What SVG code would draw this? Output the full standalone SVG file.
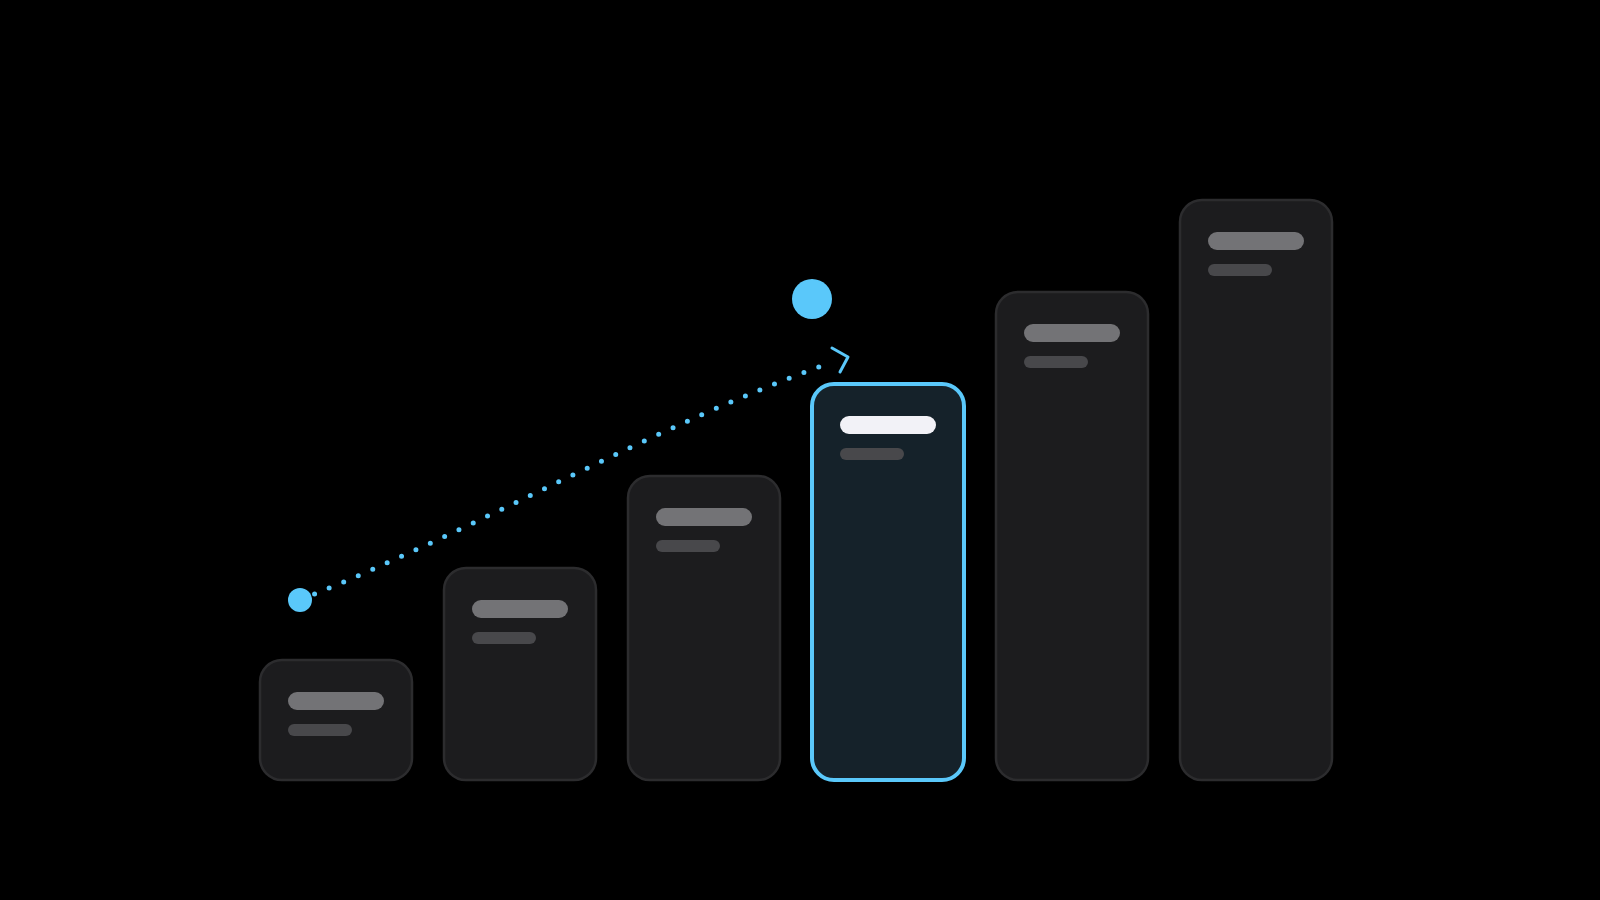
<svg xmlns="http://www.w3.org/2000/svg" width="1600" height="900" viewBox="0 0 1600 900">
  <style>
    .bar { fill: #1c1c1e; stroke: #2c2c2e; stroke-width: 2.5; }
    .bar-active { fill: #15222a; stroke: #5ac8fa; stroke-width: 4; }
    .title { fill: #737376; }
    .title-active { fill: #f2f2f7; }
    .sub { fill: #48484b; }
    .dot { fill: #5ac8fa; }
    .trail { fill: none; stroke: #5ac8fa; stroke-width: 5; stroke-linecap: round; stroke-dasharray: 0 15.8; }
    .chev { fill: none; stroke: #5ac8fa; stroke-width: 3; stroke-linecap: round; stroke-linejoin: round; }
  </style>
  <rect width="1600" height="900" fill="#000000"/>
  <g id="step1">
    <rect class="bar" x="260" y="660" width="152" height="120" rx="22"/>
    <rect class="title" x="288" y="692" width="96" height="18" rx="9"/>
    <rect class="sub" x="288" y="724" width="64" height="12" rx="6"/>
  </g>
  <g id="step2">
    <rect class="bar" x="444" y="568" width="152" height="212" rx="22"/>
    <rect class="title" x="472" y="600" width="96" height="18" rx="9"/>
    <rect class="sub" x="472" y="632" width="64" height="12" rx="6"/>
  </g>
  <g id="step3">
    <rect class="bar" x="628" y="476" width="152" height="304" rx="22"/>
    <rect class="title" x="656" y="508" width="96" height="18" rx="9"/>
    <rect class="sub" x="656" y="540" width="64" height="12" rx="6"/>
  </g>
  <g id="step4">
    <rect class="bar-active" x="812" y="384" width="152" height="396" rx="22"/>
    <rect class="title-active" x="840" y="416" width="96" height="18" rx="9"/>
    <rect class="sub" x="840" y="448" width="64" height="12" rx="6"/>
  </g>
  <g id="step5">
    <rect class="bar" x="996" y="292" width="152" height="488" rx="22"/>
    <rect class="title" x="1024" y="324" width="96" height="18" rx="9"/>
    <rect class="sub" x="1024" y="356" width="64" height="12" rx="6"/>
  </g>
  <g id="step6">
    <rect class="bar" x="1180" y="200" width="152" height="580" rx="22"/>
    <rect class="title" x="1208" y="232" width="96" height="18" rx="9"/>
    <rect class="sub" x="1208" y="264" width="64" height="12" rx="6"/>
  </g>
  <g id="connectors">
    <path class="trail" d="M300 600 C480 528 660 423 830 363"/>
    <polyline class="chev" points="832,348 848,357 840,372"/>
  </g>
  <g id="start-marker">
    <circle class="dot" cx="300" cy="600" r="12"/>
  </g>
  <g id="current-marker">
    <circle class="dot" cx="812" cy="299" r="20"/>
  </g>
</svg>
